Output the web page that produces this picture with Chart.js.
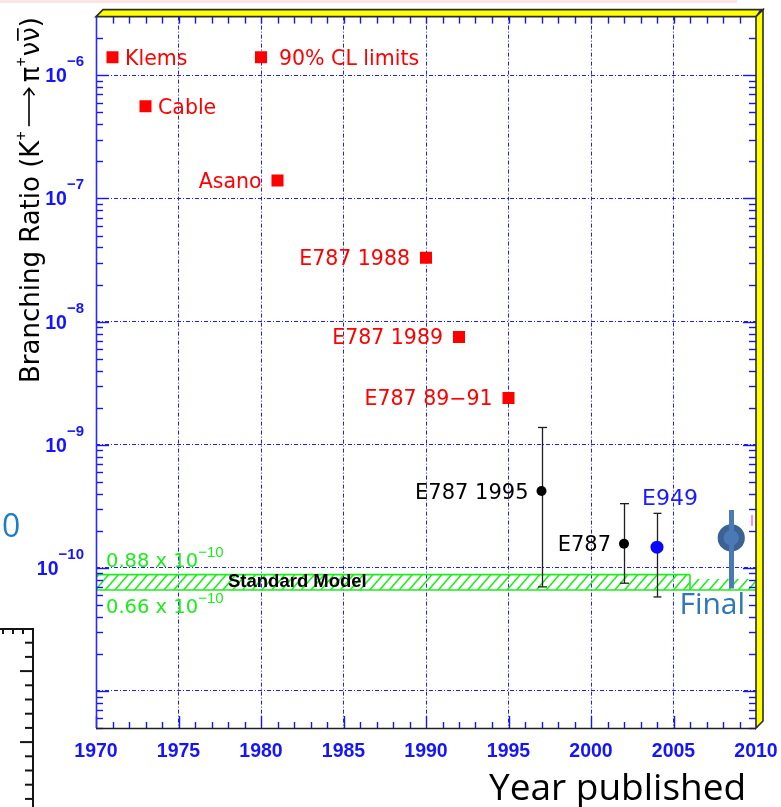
<!DOCTYPE html>
<html>
<head>
<meta charset="utf-8">
<title>K+ → π+ ν ν̄ branching ratio vs year</title>
<script src="https://cdn.jsdelivr.net/npm/chart.js@4.4.1/dist/chart.umd.min.js"></script>
<style>
  html, body { margin: 0; padding: 0; background: #ffffff; overflow: hidden; }
  canvas { display: block; }
</style>
</head>
<body>
<canvas id="c" width="781" height="807" style="width:781px;height:807px"></canvas>
<script>
// ---- 90% CL upper limits ----
const limitNames  = ['Klems', 'Cable', 'Asano', 'E787 1988', 'E787 1989', 'E787 89\u221291'];
const limitYears  = [1971, 1973, 1981, 1990, 1992, 1995];
const limitValues = [1.4e-6, 5.6e-7, 1.4e-7, 3.3e-8, 7.5e-9, 2.4e-9];

// ---- legend entry for the limits ----
const legendText   = ['90% CL limits'];
const legendYears  = [1980];
const legendValues = [1.4e-6];

// ---- E787 measurements (central value, upper and lower ends of the error bar) ----
const e787Names  = ['E787 1995', 'E787'];
const e787Years  = [1997, 2002];
const e787Values = [4.2e-10, 1.57e-10];
const e787High   = [1.38e-9, 3.32e-10];
const e787Low    = [7.0e-11, 7.5e-11];

// ---- E949 ----
const e949Names  = ['E949'];
const e949Years  = [2004];
const e949Values = [1.47e-10];
const e949High   = [2.77e-10];
const e949Low    = [5.8e-11];

// ---- combined final result ----
const finalNames  = ['Final'];
const finalYears  = [2008.5];
const finalValues = [1.75e-10];
const finalHigh   = [2.95e-10];
const finalLow    = [6.8e-11];

// ---- Standard Model band ----
const smLow  = 0.66e-10;
const smHigh = 0.88e-10;
const smLowText  = '0.66 x 10';
const smHighText = '0.88 x 10';
const smExpText  = '\u221210';
const smName     = 'Standard Model';
const smYearsFull = [1970, 2006];
const smYearsTail = [2006, 2010];

// ---- axes ----
const xTickLabels    = ['1970', '1975', '1980', '1985', '1990', '1995', '2000', '2005', '2010'];
const xGridYears     = [1975, 1980, 1985, 1990, 1995, 2000, 2005];
const yTickExponents = [-6, -7, -8, -9, -10];
const yGridExponents = [-6, -7, -8, -9, -10, -11];
const xTitle = 'Year published';

// ---- colours ----
const RED = '#ff0000';
const AXIS_BLUE = '#1414ff';
const GRID_BLUE = '#1e1eff';
const GREEN = '#1cec1c';
const STEEL = '#4a7ab6';
const STEEL_DARK = '#3b6293';

const pts = (xs, ys) => xs.map((x, i) => ({ x: x, y: ys[i] }));

function line(ctx, x1, y1, x2, y2) {
  ctx.beginPath(); ctx.moveTo(x1, y1); ctx.lineTo(x2, y2); ctx.stroke();
}

// vertical error bars drawn through the y scale
function errorBars(chart, years, hi, lo, color, width, cap) {
  const ctx = chart.ctx, xs = chart.scales.x, ys = chart.scales.y;
  ctx.save();
  ctx.strokeStyle = color; ctx.lineWidth = width;
  years.forEach((yr, i) => {
    const px = Math.round(xs.getPixelForValue(yr)) + 0.5;
    const pHi = ys.getPixelForValue(hi[i]);
    const pLo = ys.getPixelForValue(lo[i]);
    line(ctx, px, pHi, px, pLo);
    if (cap > 0) {
      line(ctx, px - cap / 2, pHi, px + cap / 2, pHi);
      line(ctx, px - cap / 2, pLo, px + cap / 2, pLo);
    }
  });
  ctx.restore();
}

// hatched band between two y values
function hatchBand(ctx, x0, x1, top, bottom, borders) {
  const h = bottom - top;
  ctx.save();
  ctx.beginPath(); ctx.rect(x0, top, x1 - x0, h); ctx.clip();
  ctx.strokeStyle = GREEN; ctx.lineWidth = 1.5;
  ctx.beginPath();
  for (let x = x0 - 30; x < x1 + 30; x += 9.8) {
    ctx.moveTo(x, bottom); ctx.lineTo(x + h * 0.85, top);
  }
  ctx.stroke();
  ctx.restore();
  ctx.save();
  ctx.strokeStyle = GREEN; ctx.lineWidth = 1.6;
  if (borders.top) line(ctx, x0, top, x1, top);
  if (borders.bottom) line(ctx, x0, bottom, x1, bottom);
  if (borders.end) line(ctx, x1, top, x1, bottom);
  ctx.restore();
}

const decorations = {
  id: 'decorations',
  beforeDraw(chart) {
    const ctx = chart.ctx;
    ctx.save();
    ctx.fillStyle = '#ffffff';
    ctx.fillRect(0, 0, chart.width, chart.height);
    // faint strip along the top edge
    ctx.fillStyle = '#fbe6e6';
    ctx.fillRect(0, 0, 737, 3);
    // fragment of a neighbouring frame, bottom left
    ctx.strokeStyle = '#141414'; ctx.lineWidth = 2;
    line(ctx, 0, 629, 34, 629);
    line(ctx, 33, 629, 33, 807);
    [3, 13, 23].forEach(x => line(ctx, x, 629, x, 634));
    for (let k = 0, y = 642.7; y < 807; k++, y += 14.2) {
      const long = (k % 5) === 2;
      line(ctx, 33, y, 33 - (long ? 13 : 8), y);
    }
    // tail of a caption cut off at the left edge
    ctx.fillStyle = '#1b7fc4';
    ctx.font = '32px "Open Sans"';
    ctx.textBaseline = 'alphabetic'; ctx.textAlign = 'left';
    ctx.fillText('0', 2, 537);
    ctx.restore();
  },
  beforeDatasetsDraw(chart) {
    const ctx = chart.ctx, xs = chart.scales.x, ys = chart.scales.y, a = chart.chartArea;
    // Standard Model band
    const top = ys.getPixelForValue(smHigh), bottom = ys.getPixelForValue(smLow);
    const xA = xs.getPixelForValue(smYearsFull[0]), xB = xs.getPixelForValue(smYearsFull[1]);
    const xC = xs.getPixelForValue(smYearsTail[1]);
    hatchBand(ctx, xA, xB, top, bottom, { top: true, bottom: true, end: true });
    hatchBand(ctx, xB, xC, top + 4, bottom, { top: false, bottom: true, end: false });

    ctx.save();
    ctx.textBaseline = 'alphabetic'; ctx.textAlign = 'left';
    ctx.fillStyle = GREEN;
    const drawSM = (txt, y) => {
      ctx.font = '19.5px "DejaVu Sans"';
      ctx.fillText(txt, a.left + 10, y);
      const w = ctx.measureText(txt).width;
      ctx.font = '15px "Liberation Sans"';
      ctx.fillText(smExpText, a.left + 10 + w, y - 10);
    };
    drawSM(smHighText, top - 8);
    drawSM(smLowText, bottom + 22.5);
    ctx.fillStyle = '#000000';
    ctx.font = 'bold 18.5px "Liberation Sans"';
    ctx.fillText(smName, xs.getPixelForValue(1978), (top + bottom) / 2 + 4.5);
    ctx.restore();

    // error bars behind the markers
    errorBars(chart, e787Years, e787High, e787Low, '#1e1e1e', 1.3, 9);
    errorBars(chart, e949Years, e949High, e949Low, '#1e1e1e', 1.3, 8);
  },
  afterDatasetsDraw(chart) {
    const ctx = chart.ctx, xs = chart.scales.x, ys = chart.scales.y, a = chart.chartArea;

    // final result: thick bar drawn over its marker
    errorBars(chart, finalYears, finalHigh, finalLow, STEEL, 5, 0);

    ctx.save();
    ctx.textBaseline = 'alphabetic';

    // limit labels
    const limitSide = ['right', 'right', 'left', 'left', 'left', 'left'];
    ctx.font = '20.5px "DejaVu Sans"';
    ctx.fillStyle = RED;
    chart.getDatasetMeta(0).data.forEach((p, i) => {
      if (limitSide[i] === 'right') { ctx.textAlign = 'left'; ctx.fillText(limitNames[i], p.x + 12.5, p.y + 7.5); }
      else { ctx.textAlign = 'right'; ctx.fillText(limitNames[i], p.x - 16, p.y + 7.5); }
    });
    chart.getDatasetMeta(1).data.forEach((p, i) => {
      ctx.textAlign = 'left'; ctx.fillText(legendText[i], p.x + 18, p.y + 7.5);
    });

    // measurement labels
    ctx.font = '21px "DejaVu Sans"';
    ctx.fillStyle = '#000000'; ctx.textAlign = 'right';
    chart.getDatasetMeta(2).data.forEach((p, i) => {
      ctx.fillText(e787Names[i], p.x - 13, p.y + 7.8);
    });
    ctx.font = '22px "DejaVu Sans"';
    ctx.fillStyle = '#1a1aff'; ctx.textAlign = 'center';
    chart.getDatasetMeta(3).data.forEach((p, i) => {
      ctx.fillText(e949Names[i], p.x + 13, p.y - 42);
    });
    ctx.font = '30px "Open Sans"';
    ctx.fillStyle = '#2e76b7'; ctx.textAlign = 'center';
    chart.getDatasetMeta(4).data.forEach((p, i) => {
      ctx.fillText(finalNames[i], p.x - 19, p.y + 76);
    });

    // tiny magenta mark by the right edge
    ctx.strokeStyle = '#ff55ff'; ctx.lineWidth = 1.4;
    line(ctx, a.right - 4, 515, a.right - 4, 526);

    // ---- axes: lines and inward tick marks ----
    ctx.lineWidth = 1.4;
    ctx.strokeStyle = AXIS_BLUE;
    for (let yr = 1970; yr <= 2010; yr++) {
      const px = Math.round(xs.getPixelForValue(yr)) + 0.5;
      const major = yr % 5 === 0;
      line(ctx, px, a.bottom, px, a.bottom - (major ? 12 : 6));
      if (yr > 1970 && yr < 2010) line(ctx, px, a.top, px, a.top + 7);
    }
    for (let e = -12; e <= -6; e++) {
      for (let m = 1; m <= 9; m++) {
        const v = m * Math.pow(10, e);
        if (v < ys.min || v >= ys.max * 0.999) continue;
        const py = Math.round(ys.getPixelForValue(v)) + 0.5;
        const len = m === 1 ? 13 : 7;
        line(ctx, a.left, py, a.left + len, py);
        line(ctx, a.right, py, a.right - len, py);
      }
    }
    ctx.lineWidth = 1.6;
    ctx.strokeStyle = '#2a2aff';
    line(ctx, a.left + 0.5, a.top, a.left + 0.5, a.bottom);
    ctx.strokeStyle = '#202020';
    line(ctx, a.left, a.bottom + 0.5, a.right, a.bottom + 0.5);

    // ---- tick labels ----
    ctx.fillStyle = AXIS_BLUE;
    ctx.font = 'bold 19.5px "Liberation Sans"';
    ctx.textAlign = 'center';
    xTickLabels.forEach(t => {
      ctx.fillText(t, xs.getPixelForValue(parseFloat(t)), a.bottom + 28.8);
    });
    yTickExponents.forEach(e => {
      const py = ys.getPixelForValue(Math.pow(10, e));
      const es = '\u2212' + Math.abs(e);
      ctx.font = 'bold 15px "Liberation Sans"';
      const ew = ctx.measureText(es).width;
      const right = a.left - 12;
      ctx.textAlign = 'left';
      ctx.fillText(es, right - ew, py - 9);
      ctx.font = 'bold 19.5px "Liberation Sans"';
      ctx.textAlign = 'right';
      ctx.fillText('10', right - ew, py + 7);
    });

    // ---- raised yellow frame along the top and right ----
    const d = 7;
    ctx.fillStyle = '#ffff00';
    ctx.strokeStyle = '#2c2c2c';
    ctx.lineWidth = 1.6;
    ctx.beginPath();
    ctx.moveTo(a.left, a.top);
    ctx.lineTo(a.left + d, a.top - d);
    ctx.lineTo(a.right + d, a.top - d);
    ctx.lineTo(a.right, a.top);
    ctx.closePath();
    ctx.fill(); ctx.stroke();
    ctx.beginPath();
    ctx.moveTo(a.right, a.top);
    ctx.lineTo(a.right + d, a.top - d);
    ctx.lineTo(a.right + d, a.bottom - d);
    ctx.lineTo(a.right, a.bottom);
    ctx.closePath();
    ctx.fill(); ctx.stroke();
    ctx.fillStyle = '#2c2c2c';
    ctx.beginPath();
    ctx.moveTo(a.right - 1, a.top + 1);
    ctx.lineTo(a.right + d, a.top - d);
    ctx.lineTo(a.right + d - 3, a.top - d);
    ctx.closePath();
    ctx.fill();

    // ---- axis titles ----
    ctx.fillStyle = '#000000';
    ctx.font = '37px "Open Sans"';
    ctx.textAlign = 'left';
    ctx.fillText(xTitle, 489, 800);

    ctx.save();
    ctx.translate(39, 383);
    ctx.rotate(-Math.PI / 2);
    ctx.textAlign = 'left';
    ctx.strokeStyle = '#000000';
    let x = 0;
    const main = '26px "DejaVu Sans"', sup = '16px "Liberation Sans"';
    const put = (s, font, dy) => {
      ctx.font = font; ctx.fillText(s, x, dy || 0); x += ctx.measureText(s).width;
    };
    put('Branching Ratio (K', main);
    put('+', sup, -13);
    x += 5;
    ctx.lineWidth = 1.6;
    ctx.beginPath();
    ctx.moveTo(x, -10); ctx.lineTo(x + 38, -10);
    ctx.moveTo(x + 31, -15.5); ctx.lineTo(x + 38, -10); ctx.lineTo(x + 31, -4.5);
    ctx.stroke();
    x += 44;
    put('\u03c0', main);
    put('+', sup, -13);
    x += 1;
    put('\u03bd', main);
    const nx = x;
    put('\u03bd', main);
    ctx.fillRect(nx + 1, -22, x - nx - 2, 1.7);
    put(')', main);
    ctx.restore();

    ctx.restore();
  }
};

new Chart(document.getElementById('c'), {
  type: 'scatter',
  data: {
    datasets: [
      { label: 'limits', data: pts(limitYears, limitValues), pointStyle: 'rect', pointRadius: 8.5,
        backgroundColor: RED, borderColor: RED, borderWidth: 0 },
      { label: 'legend', data: pts(legendYears, legendValues), pointStyle: 'rect', pointRadius: 8.5,
        backgroundColor: RED, borderColor: RED, borderWidth: 0 },
      { label: 'E787', data: pts(e787Years, e787Values), pointStyle: 'circle', pointRadius: 5,
        backgroundColor: '#000000', borderColor: '#000000', borderWidth: 0 },
      { label: 'E949', data: pts(e949Years, e949Values), pointStyle: 'circle', pointRadius: 6.5,
        backgroundColor: '#0808ff', borderColor: '#0808ff', borderWidth: 0 },
      { label: 'Final', data: pts(finalYears, finalValues), pointStyle: 'circle', pointRadius: 10.6,
        backgroundColor: STEEL, borderColor: STEEL_DARK, borderWidth: 6 }
    ]
  },
  options: {
    responsive: false,
    devicePixelRatio: 1,
    animation: false,
    events: [],
    layout: { padding: { left: 96, right: 25, top: 13, bottom: 79 } },
    plugins: { legend: { display: false }, tooltip: { enabled: false } },
    scales: {
      x: {
        type: 'linear', min: 1970, max: 2010,
        afterBuildTicks: s => { s.ticks = xGridYears.map(v => ({ value: v })); },
        ticks: { display: false },
        grid: { color: GRID_BLUE, lineWidth: 1, drawTicks: false },
        border: { display: false, dash: [4, 2, 1, 2] }
      },
      y: {
        type: 'logarithmic', min: 5e-12, max: 3e-6,
        afterBuildTicks: s => { s.ticks = yGridExponents.map(e => ({ value: Math.pow(10, e) })); },
        ticks: { display: false },
        grid: { color: GRID_BLUE, lineWidth: 1, drawTicks: false },
        border: { display: false, dash: [4, 2, 1, 2] }
      }
    }
  },
  plugins: [decorations]
});
</script>
</body>
</html>
